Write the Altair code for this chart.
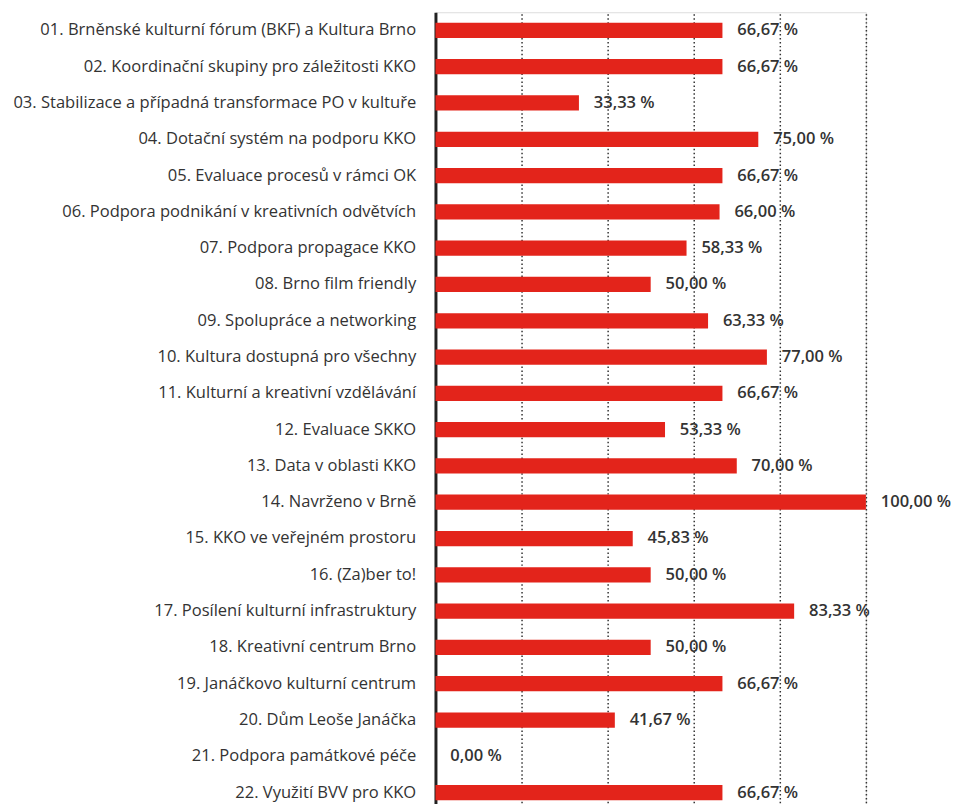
import altair as alt
import pandas as pd

categories = [
    "01. Brněnské kulturní fórum (BKF) a Kultura Brno",
    "02. Koordinační skupiny pro záležitosti KKO",
    "03. Stabilizace a případná transformace PO v kultuře",
    "04. Dotační systém na podporu KKO",
    "05. Evaluace procesů v rámci OK",
    "06. Podpora podnikání v kreativních odvětvích",
    "07. Podpora propagace KKO",
    "08. Brno film friendly",
    "09. Spolupráce a networking",
    "10. Kultura dostupná pro všechny",
    "11. Kulturní a kreativní vzdělávání",
    "12. Evaluace SKKO",
    "13. Data v oblasti KKO",
    "14. Navrženo v Brně",
    "15. KKO ve veřejném prostoru",
    "16. (Za)ber to!",
    "17. Posílení kulturní infrastruktury",
    "18. Kreativní centrum Brno",
    "19. Janáčkovo kulturní centrum",
    "20. Dům Leoše Janáčka",
    "21. Podpora památkové péče",
    "22. Využití BVV pro KKO",
]
values = [66.67, 66.67, 33.33, 75.00, 66.67, 66.00, 58.33, 50.00, 63.33, 77.00,
          66.67, 53.33, 70.00, 100.00, 45.83, 50.00, 83.33, 50.00, 66.67, 41.67,
          0.00, 66.67]
gridlines = [20, 40, 60, 80, 100]

df = pd.DataFrame({
    "cat": categories,
    "val": values,
    "label": [f"{v:.2f}".replace(".", ",") + " %" for v in values],
})

RED = "#e3241b"
FONT = "Open Sans"

y_enc = alt.Y(
    "cat:N", sort=categories, title=None,
    scale=alt.Scale(paddingInner=0.58, paddingOuter=0.29),
    axis=alt.Axis(labelFont=FONT, labelFontSize=16.7, labelColor="#333333",
                  labelPadding=20, ticks=False, domain=True, domainWidth=3,
                  domainColor="#222222", grid=False, labelLimit=600),
)
x_enc = alt.X(
    "val:Q", title=None,
    scale=alt.Scale(domain=[0, 100], nice=False, zero=True),
    axis=alt.Axis(labels=False, ticks=False, domain=False, grid=True,
                  values=gridlines, gridColor="#333333", gridDash=[1.5, 2.5],
                  gridWidth=1.5),
)

bars = alt.Chart(df).mark_bar(color=RED, opacity=1).encode(x=x_enc, y=y_enc)
text = alt.Chart(df).mark_text(
    align="left", baseline="middle", dx=15, font=FONT, fontSize=16.7,
    fontWeight=600, color="#333333",
).encode(x="val:Q", y=alt.Y("cat:N", sort=categories), text="label:N")

chart = (bars + text).properties(
    width=435, height=807,
    padding={"top": 0, "left": 5, "right": 0, "bottom": 0},
).configure_view(stroke=None).configure(background="white")

chart.save("out.html", embed_options={"renderer": "svg", "actions": False})
